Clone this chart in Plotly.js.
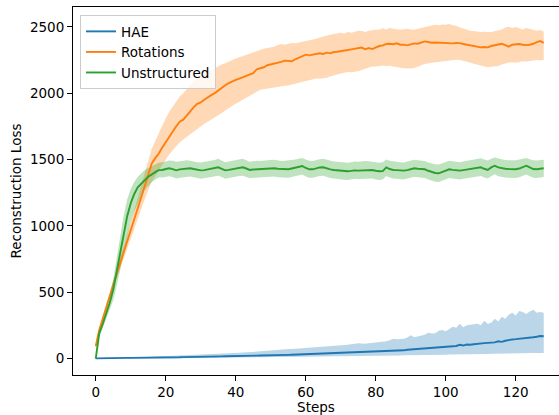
<!DOCTYPE html>
<html>
<head>
<meta charset="utf-8">
<script src="https://cdn.plot.ly/plotly-3.0.1.min.js"></script>
<style>html,body{margin:0;padding:0;background:#fff;}#chart{width:559px;height:415px;}</style>
</head>
<body>
<div id="chart"></div>
<script>
// Step index 0..128
const seriesNames = ["HAE", "Rotations", "Unstructured"];

const haeMean = [1,2,2,3,3,3,4,4,4,5,5,5,6,6,6,7,7,7,8,8,8,9,9,10,10,11,11,12,12,13,13,14,14,15,15,16,16,17,17,18,18,19,19,20,21,21,22,23,23,24,25,26,26,27,28,28,29,30,30,31,32,33,34,35,36,37,38,38,39,40,41,42,43,45,46,47,48,50,52,54,56,57,58,59,60,61,60,58,62,66,68,69,70,72,74,75,78,81,84,86,88,90,92,95,104,98,106,104,108,112,114,116,118,120,122,130,126,134,140,144,146,148,150,152,156,160,164,170,168];
const haeUpper = [4,5,6,6,7,7,8,8,9,9,10,11,11,12,12,13,14,14,15,16,17,18,19,20,21,22,23,24,25,26,27,28,30,31,33,34,36,37,39,40,42,43,45,46,48,50,52,54,56,58,61,64,66,68,70,71,72,74,76,78,80,82,84,85,88,90,92,90,93,96,98,100,104,108,112,115,114,112,116,118,120,124,126,130,138,150,146,148,150,158,175,160,165,170,180,195,188,190,210,215,205,222,240,232,262,235,250,255,258,262,250,285,262,270,300,280,315,300,330,345,325,358,350,335,355,368,345,350,345];
const haeLower = [0,0,0,0,1,1,1,1,1,1,1,1,2,2,2,2,2,2,2,2,3,3,3,3,3,4,4,4,4,4,5,5,5,5,5,6,6,6,6,6,7,7,7,7,8,8,8,9,9,9,10,10,11,11,12,12,12,13,13,14,14,15,15,15,16,16,16,17,17,17,18,18,18,19,19,19,20,20,20,21,21,21,22,22,22,23,23,23,24,24,24,25,25,26,26,27,27,28,28,29,29,30,30,31,31,32,32,33,33,34,34,35,35,36,36,37,37,38,38,39,39,40,40,40,41,41,42,42,42];

const rotMean = [93,215,300,390,480,560,640,720,800,885,965,1050,1130,1215,1300,1390,1470,1510,1545,1590,1630,1680,1720,1750,1785,1800,1830,1865,1895,1920,1930,1950,1970,1985,2000,2020,2045,2060,2075,2090,2100,2110,2120,2125,2135,2150,2180,2185,2195,2210,2215,2220,2225,2235,2245,2240,2240,2255,2265,2280,2290,2285,2290,2295,2300,2295,2305,2300,2310,2312,2315,2320,2325,2330,2335,2340,2343,2330,2340,2332,2345,2355,2360,2370,2372,2368,2375,2365,2365,2360,2368,2375,2372,2380,2390,2385,2380,2382,2380,2383,2380,2377,2375,2378,2377,2370,2365,2362,2360,2350,2345,2348,2345,2355,2360,2365,2372,2362,2350,2365,2368,2370,2365,2362,2365,2372,2385,2392,2378];
const rotUpper = [105,230,320,410,505,590,675,760,845,935,1020,1110,1200,1295,1390,1490,1580,1640,1700,1760,1810,1860,1900,1940,1975,2000,2030,2060,2090,2110,2130,2145,2160,2175,2190,2200,2215,2225,2240,2250,2260,2270,2280,2290,2295,2305,2320,2326,2335,2340,2345,2350,2362,2370,2365,2372,2378,2375,2380,2388,2395,2400,2405,2410,2420,2428,2435,2440,2445,2450,2455,2450,2460,2455,2465,2470,2468,2460,2470,2475,2478,2477,2488,2480,2490,2485,2482,2478,2482,2485,2480,2478,2485,2490,2500,2505,2510,2515,2512,2518,2515,2520,2512,2508,2495,2490,2480,2470,2465,2462,2460,2462,2458,2460,2465,2470,2480,2495,2500,2490,2498,2488,2480,2490,2485,2478,2470,2475,2465];
const rotLower = [80,200,280,370,455,530,605,680,755,835,910,990,1060,1130,1200,1270,1330,1375,1420,1460,1500,1540,1570,1600,1630,1650,1670,1695,1715,1735,1750,1770,1785,1800,1815,1830,1850,1870,1890,1905,1920,1935,1950,1965,1980,1995,2010,2025,2030,2035,2040,2045,2045,2050,2055,2058,2062,2070,2078,2085,2092,2098,2105,2110,2108,2112,2115,2125,2135,2140,2148,2155,2160,2158,2162,2165,2175,2185,2192,2200,2200,2205,2208,2205,2206,2200,2198,2192,2188,2185,2186,2190,2198,2210,2220,2226,2228,2232,2236,2238,2240,2245,2250,2252,2250,2245,2238,2230,2222,2215,2208,2200,2195,2198,2200,2205,2215,2225,2230,2232,2228,2235,2240,2238,2242,2245,2250,2248,2250];

const unsMean = [0,190,260,340,420,520,660,800,950,1075,1170,1240,1290,1320,1345,1370,1390,1405,1420,1421,1428,1434,1428,1418,1425,1428,1432,1434,1428,1422,1418,1420,1425,1426,1434,1441,1430,1418,1422,1428,1434,1438,1441,1432,1421,1424,1426,1426,1428,1430,1432,1434,1430,1428,1426,1426,1432,1438,1444,1451,1436,1426,1426,1434,1440,1441,1432,1425,1421,1418,1416,1414,1411,1414,1418,1416,1418,1420,1421,1421,1415,1411,1413,1441,1428,1421,1420,1418,1416,1420,1428,1434,1430,1428,1426,1415,1404,1398,1396,1408,1420,1426,1422,1418,1416,1420,1424,1426,1430,1436,1441,1430,1421,1440,1453,1440,1434,1430,1428,1426,1426,1432,1444,1453,1440,1428,1426,1432,1434];
const unsUpper = [5,215,290,380,480,600,770,940,1080,1200,1280,1330,1370,1395,1420,1435,1450,1460,1475,1480,1488,1492,1490,1482,1486,1492,1495,1490,1484,1480,1478,1482,1488,1490,1496,1505,1495,1480,1485,1490,1498,1502,1506,1494,1482,1486,1490,1488,1492,1494,1496,1498,1492,1488,1490,1492,1496,1500,1506,1512,1500,1490,1488,1496,1502,1505,1496,1488,1484,1482,1480,1478,1476,1480,1484,1482,1486,1488,1486,1484,1478,1476,1480,1500,1490,1484,1482,1480,1478,1484,1492,1498,1494,1490,1488,1478,1470,1465,1462,1472,1484,1490,1486,1482,1480,1485,1490,1494,1498,1504,1510,1500,1492,1506,1515,1508,1500,1496,1494,1492,1494,1500,1508,1512,1502,1494,1492,1496,1498];
const unsLower = [-2,165,230,300,360,440,550,670,790,930,1030,1110,1170,1220,1270,1300,1330,1350,1365,1365,1370,1374,1368,1356,1362,1366,1370,1372,1366,1360,1355,1358,1364,1366,1372,1378,1368,1355,1360,1366,1372,1376,1378,1368,1358,1362,1364,1362,1366,1368,1370,1372,1366,1364,1362,1362,1368,1374,1380,1386,1372,1362,1362,1370,1376,1378,1368,1360,1356,1352,1350,1348,1346,1350,1354,1352,1354,1356,1356,1356,1350,1346,1350,1376,1364,1356,1354,1352,1350,1356,1364,1370,1366,1362,1360,1350,1338,1332,1330,1342,1354,1360,1356,1352,1350,1354,1358,1360,1364,1370,1376,1364,1356,1374,1388,1374,1368,1364,1362,1360,1360,1366,1378,1386,1374,1362,1360,1366,1368];

const xTickVals = [0, 20, 40, 60, 80, 100, 120];
const yTickVals = [0, 500, 1000, 1500, 2000, 2500];

const steps = haeMean.map((_, i) => i);
const lineColors = ["#1f77b4", "#ff7f0e", "#2ca02c"];
const fillColors = ["rgba(31,119,180,0.3)", "rgba(255,127,14,0.3)", "rgba(44,160,44,0.3)"];
const means = [haeMean, rotMean, unsMean];
const uppers = [haeUpper, rotUpper, unsUpper];
const lowers = [haeLower, rotLower, unsLower];

const traces = [];
for (let k = 0; k < 3; k++) {
  traces.push({x: steps, y: lowers[k], type: "scatter", mode: "lines", line: {width: 0, color: fillColors[k]}, showlegend: false, hoverinfo: "skip"});
  traces.push({x: steps, y: uppers[k], type: "scatter", mode: "lines", fill: "tonexty", fillcolor: fillColors[k], line: {width: 0, color: fillColors[k]}, showlegend: false, hoverinfo: "skip"});
}
for (let k = 0; k < 3; k++) {
  traces.push({x: steps, y: means[k], type: "scatter", mode: "lines", name: seriesNames[k], line: {width: 1.9, color: lineColors[k]}});
}

const font = {family: "DejaVu Sans", size: 13.5, color: "#000"};
const layout = {
  width: 559, height: 415,
  margin: {l: 73, r: 0, t: 7, b: 40, pad: 0},
  paper_bgcolor: "#fff", plot_bgcolor: "#fff",
  font: font,
  showlegend: true,
  xaxis: {
    range: [-6.5, 132.36], tickvals: xTickVals, ticktext: xTickVals.map(String),
    showgrid: false, zeroline: false, showline: true, mirror: true, linecolor: "#000", linewidth: 1,
    ticks: "outside", ticklen: 5, tickwidth: 1, tickcolor: "#000", tickfont: font,
    title: {text: "Steps", font: font, standoff: 4}
  },
  yaxis: {
    range: [-124, 2649], tickvals: yTickVals, ticktext: yTickVals.map(String),
    showgrid: false, zeroline: false, showline: true, mirror: false, linecolor: "#000", linewidth: 1,
    ticks: "outside", ticklen: 5, tickwidth: 1, tickcolor: "#000", tickfont: font,
    title: {text: "Reconstruction Loss", font: font, standoff: 5}
  },
  legend: {
    x: 0.0144, y: 0.978, xanchor: "left", yanchor: "top", traceorder: "normal",
    bgcolor: "rgba(255,255,255,0.8)", bordercolor: "#cccccc", borderwidth: 1,
    font: font, tracegroupgap: 0, itemwidth: 30
  }
};
Plotly.newPlot("chart", traces, layout, {staticPlot: true, displayModeBar: false});
</script>
</body>
</html>
